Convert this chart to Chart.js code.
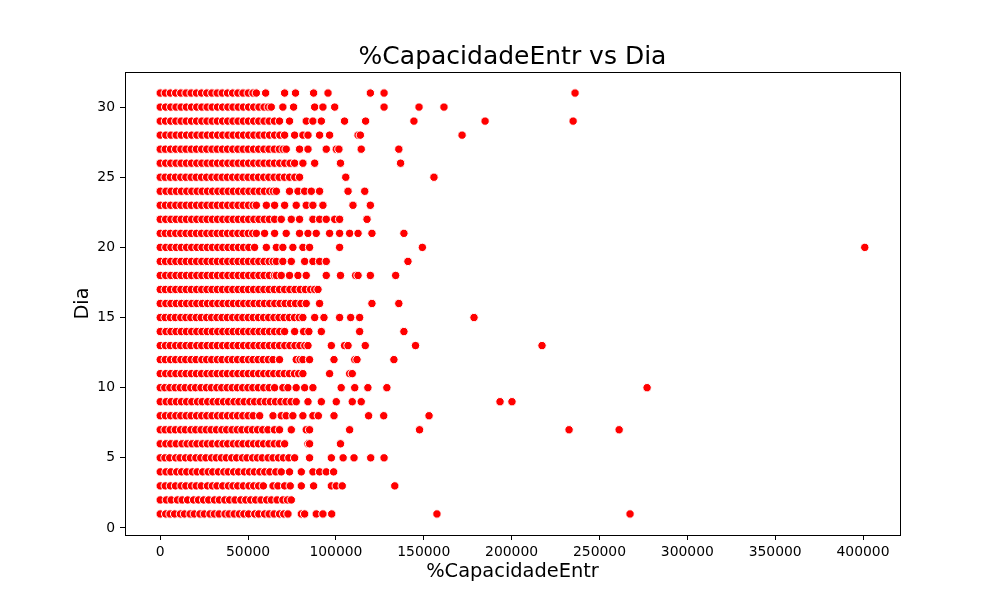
<!DOCTYPE html>
<html>
<head>
<meta charset="utf-8">
<script src="https://cdn.jsdelivr.net/npm/chart.js@4.4.1/dist/chart.umd.min.js"></script>
<style>
  html, body { margin: 0; padding: 0; background: #fff; }
  #wrap { width: 1000px; height: 600px; }
</style>
</head>
<body>
<div id="wrap"><canvas id="scatterChart" width="1000" height="600"></canvas></div>
<script>
// %CapacidadeEntr values, one list per day
const dia01 = [0,3100,5600,8200,11500,13800,17000,19400,22600,25100,28300,30800,33500,36900,39200,42100,45000,47600,50300,53800,56100,59400,62000,64800,67900,70300,72700,80300,82200,88800,92600,97600,157500,267400];
const dia02 = [0,3500,6300,9800,12500,15600,19000,21800,24700,27600,30900,33700,36800,39500,42600,45900,48700,51500,54300,57400,60600,63300,66500,69800,72400,74600];
const dia03 = [0,2900,5800,8700,11900,14600,17800,20500,23400,26900,29700,32300,35600,38800,41400,44100,47300,50500,53200,56000,58700,64200,67000,70800,74000,80300,87300,97400,100200,103600,133500];
const dia04 = [0,3300,6100,9400,12200,15100,18300,21000,24200,27300,29900,33100,36200,38700,41800,44600,47900,50800,53600,56700,59500,62400,65800,68900,73600,80300,86900,90700,94500,98700];
const dia05 = [0,2700,5400,8800,11300,14400,17200,20300,23100,26000,29200,31900,34800,37600,40700,43500,46800,49400,52600,55300,58100,61400,64200,67300,70100,73200,76500,85000,97400,104100,110300,119800,127400];
const dia06 = [0,3200,6000,9100,12400,15300,18100,20900,24000,26800,29600,32800,35700,38400,41600,44300,47100,50200,53100,55900,58800,61900,64900,67700,70800,84100,85000,102600];
const dia07 = [0,2800,5700,8600,11600,14300,17500,20200,23300,26200,29000,32000,35100,37800,40900,43800,46500,49700,52500,55400,58300,61300,65000,67900,74600,83100,85000,107800,147600,232700,261200];
const dia08 = [0,3000,5900,8900,11700,14800,17600,20700,23600,26500,29500,32600,35300,38300,41200,44000,47000,50000,52900,56600,64200,68900,71700,75500,81200,86900,90000,98900,118600,127200,153000];
const dia09 = [0,3400,6200,9200,12100,15000,18000,21200,23900,27000,30100,32900,36000,38900,42000,44800,47800,51000,53700,56900,59800,62700,65600,68700,71600,74500,77400,84100,91700,100200,109300,114400,193400,200200];
const dia10 = [0,2600,5500,8500,11400,14200,17400,20100,23200,26300,29100,32200,35000,38100,41000,43900,46900,49900,52700,55800,58900,62000,65100,69800,72700,77400,82200,86900,103000,110700,118200,129000,277100];
const dia11 = [0,3100,6000,8900,12000,14700,17700,20600,23500,26600,29400,32400,35400,38200,41300,44200,47200,50100,53000,56000,58900,61800,64600,67700,70600,73500,76400,78800,81200,96400,107800,109300];
const dia12 = [0,2900,5900,8700,11800,14500,17600,20400,23700,26400,29300,32500,35200,38500,41100,44000,47100,50200,52800,55700,58600,61500,64200,67900,77400,79600,81200,85000,98900,110700,112000,133000];
const dia13 = [0,3000,5700,8800,11600,14700,17500,20800,23600,26700,29600,32500,35500,38300,41500,44300,47400,50300,53300,56300,59100,62100,65000,67900,70900,73800,76700,79500,82300,84100,97400,104900,106900,116700,145300,217300];
const dia14 = [0,3300,6100,9000,12000,14900,17900,20800,23800,26700,29700,32700,35600,38600,41500,44500,47400,50400,53300,56300,59200,62200,65100,68000,70800,76500,81600,84600,91700,113500,138700];
const dia15 = [0,2800,5800,8600,11700,14600,17400,20500,23300,26400,29200,32300,35200,38200,41200,44100,47000,50100,52900,55900,58800,61700,64700,67600,70500,73500,76400,79100,81200,87900,93200,102100,108400,113500,178600];
const dia16 = [0,3200,6100,9100,12100,15000,18000,20800,23900,26900,29800,32800,35700,38700,41600,44600,47500,50500,53400,56400,59300,62300,65200,68200,71100,74100,77000,80100,83100,90700,120500,135800];
const dia17 = [0,2900,5900,8800,11800,14800,17700,20700,23600,26600,29500,32500,35400,38400,41300,44300,47200,50200,53100,56100,59000,62000,64900,67900,70800,73800,76700,79700,82600,85600,87900,89800];
const dia18 = [0,3100,6000,9000,11900,14900,17800,20800,23700,26700,29600,32600,35500,38500,41400,44400,47300,50300,53200,56200,59100,62100,65000,66100,68900,73600,78400,83100,94500,102600,111200,112600,119600,134000];
const dia19 = [0,3000,6000,8900,11900,14800,17800,20700,23700,26600,29600,32500,35500,38400,41400,44300,47300,50200,53200,56100,59100,62000,64300,66100,69800,74600,82200,86900,90700,94500,141000];
const dia20 = [0,3200,6100,9100,12000,15000,17900,20900,23800,26800,29700,32700,35600,38600,41500,44500,47400,50400,53700,60400,66100,69800,75500,81200,85000,102100,149200,401000];
const dia21 = [0,2900,5800,8800,11700,14700,17600,20600,23500,26500,29400,32400,35300,38300,41200,44200,47100,50100,52600,54700,59400,65100,71700,79300,84100,88800,96400,102100,107800,112600,120500,138700];
const dia22 = [0,3100,6100,9000,12000,14900,17900,20800,23800,26700,29700,32600,35600,38500,41500,44400,47400,50300,53300,56200,59200,62100,65100,68900,74600,79300,86900,90700,94500,99300,102100,117700];
const dia23 = [0,3000,5900,8900,11800,14800,17700,20700,23600,26600,29500,32500,35400,38400,41300,44300,47200,50200,52900,54700,60400,65100,70800,77400,83100,86900,92600,109700,119600];
const dia24 = [0,3300,6200,9200,12100,15100,18000,21000,23900,26900,29800,32800,35700,38700,41600,44600,47500,50500,53400,56400,59300,62300,64400,66100,73600,78400,82200,86000,90700,106900,116400];
const dia25 = [0,2800,5800,8700,11700,14600,17600,20500,23500,26400,29400,32300,35300,38200,41200,44100,47100,50000,53000,55900,58900,61800,64800,67700,70700,73600,76600,79300,105600,155800];
const dia26 = [0,3100,6000,9000,11900,14900,17800,20800,23700,26700,29600,32600,35500,38500,41400,44400,47300,50300,53200,56200,59100,62100,65000,68000,70900,73900,76500,81200,87900,102600,136800];
const dia27 = [0,2900,5900,8800,11800,14700,17700,20600,23600,26500,29500,32400,35400,38300,41300,44200,47200,50100,53100,56000,59000,61900,64900,67800,70000,71700,79300,84100,94500,100200,101700,114400,135800];
const dia28 = [0,3200,6100,9100,12000,15000,17900,20900,23800,26800,29700,32700,35600,38600,41500,44500,47400,50400,53300,56300,59200,62200,65100,68100,70800,76500,81200,84100,90700,96400,112600,113900,171800];
const dia29 = [0,3000,6000,8900,11900,14800,17800,20700,23700,26600,29600,32500,35500,38400,41400,44300,47300,50200,53200,56100,59100,62000,65000,67900,73600,83100,86900,91700,104900,116900,144400,184900,235000];
const dia30 = [0,3100,6000,9000,11900,14900,17800,20800,23700,26700,29600,32600,35500,38500,41400,44400,47300,50300,53200,56200,59100,61500,63200,69800,75900,87900,92600,99300,127400,147300,161500];
const dia31 = [0,2900,5800,8800,11700,14700,17600,20600,23500,26500,29400,32400,35300,38300,41200,44200,47100,50100,52800,54700,60000,70800,77000,87300,95500,119600,127400,236100];

const dias = [1,2,3,4,5,6,7,8,9,10,11,12,13,14,15,16,17,18,19,20,21,22,23,24,25,26,27,28,29,30,31];
const valoresPorDia = [dia01,dia02,dia03,dia04,dia05,dia06,dia07,dia08,dia09,dia10,dia11,dia12,dia13,dia14,dia15,dia16,dia17,dia18,dia19,dia20,dia21,dia22,dia23,dia24,dia25,dia26,dia27,dia28,dia29,dia30,dia31];

const xTicks = [0, 50000, 100000, 150000, 200000, 250000, 300000, 350000, 400000];
const yTicks = [0, 5, 10, 15, 20, 25, 30];

const points = [];
dias.forEach((d, i) => {
    valoresPorDia[i].forEach(v => points.push({ x: v, y: d }));
});

// full box around the plot like matplotlib spines
const frame = {
    id: 'frame',
    afterDraw(chart) {
        const a = chart.chartArea;
        const c = chart.ctx;
        c.save();
        c.strokeStyle = '#000';
        c.lineWidth = 1;
        c.strokeRect(Math.round(a.left) + 0.5, Math.round(a.top) + 0.5,
            Math.round(a.right - a.left), Math.round(a.bottom - a.top));
        c.restore();
    }
};

const ctx = document.getElementById('scatterChart').getContext('2d');
const scatterChart = new Chart(ctx, {
    type: 'scatter',
    data: {
        datasets: [{
            label: '%CapacidadeEntr',
            data: points,
            backgroundColor: '#ff0000',
            borderColor: '#ffffff',
            borderWidth: 1,
            pointRadius: 4.2,
            pointHoverRadius: 4.2
        }]
    },
    options: {
        responsive: false,
        animation: false,
        layout: { padding: { left: 0, right: 100, top: 0, bottom: 0 } },
        plugins: {
            legend: { display: false },
            tooltip: { enabled: false },
            title: {
                display: true,
                fullSize: false,
                text: '%CapacidadeEntr vs Dia',
                color: '#000',
                font: { family: 'DejaVu Sans', size: 25, weight: 'normal' },
                padding: { top: 42, bottom: 0 }
            }
        },
        scales: {
            x: {
                type: 'linear',
                min: -20050,
                max: 421050,
                afterBuildTicks: axis => { axis.ticks = xTicks.map(v => ({ value: v })); },
                afterFit: axis => { axis.height = 65; },
                border: { display: false },
                grid: { drawOnChartArea: false, drawTicks: true, tickLength: 5, color: '#000', lineWidth: 1 },
                ticks: {
                    color: '#000',
                    padding: 4,
                    maxRotation: 0,
                    font: { family: 'DejaVu Sans', size: 13.9 },
                    callback: v => String(v)
                },
                title: {
                    display: true,
                    text: '%CapacidadeEntr',
                    color: '#000',
                    font: { family: 'DejaVu Sans', size: 19.4 },
                    padding: { top: 0, bottom: 16 }
                }
            },
            y: {
                type: 'linear',
                min: -0.5,
                max: 32.5,
                afterBuildTicks: axis => { axis.ticks = yTicks.map(v => ({ value: v })); },
                afterFit: axis => { axis.width = 125; },
                border: { display: false },
                grid: { drawOnChartArea: false, drawTicks: true, tickLength: 5, color: '#000', lineWidth: 1 },
                ticks: {
                    color: '#000',
                    padding: 5,
                    font: { family: 'DejaVu Sans', size: 13.9 },
                    callback: v => String(v)
                },
                title: {
                    display: true,
                    text: 'Dia',
                    color: '#000',
                    font: { family: 'DejaVu Sans', size: 19.4 },
                    padding: { top: 71, bottom: 0 }
                }
            }
        }
    },
    plugins: [frame]
});
</script>
</body>
</html>
